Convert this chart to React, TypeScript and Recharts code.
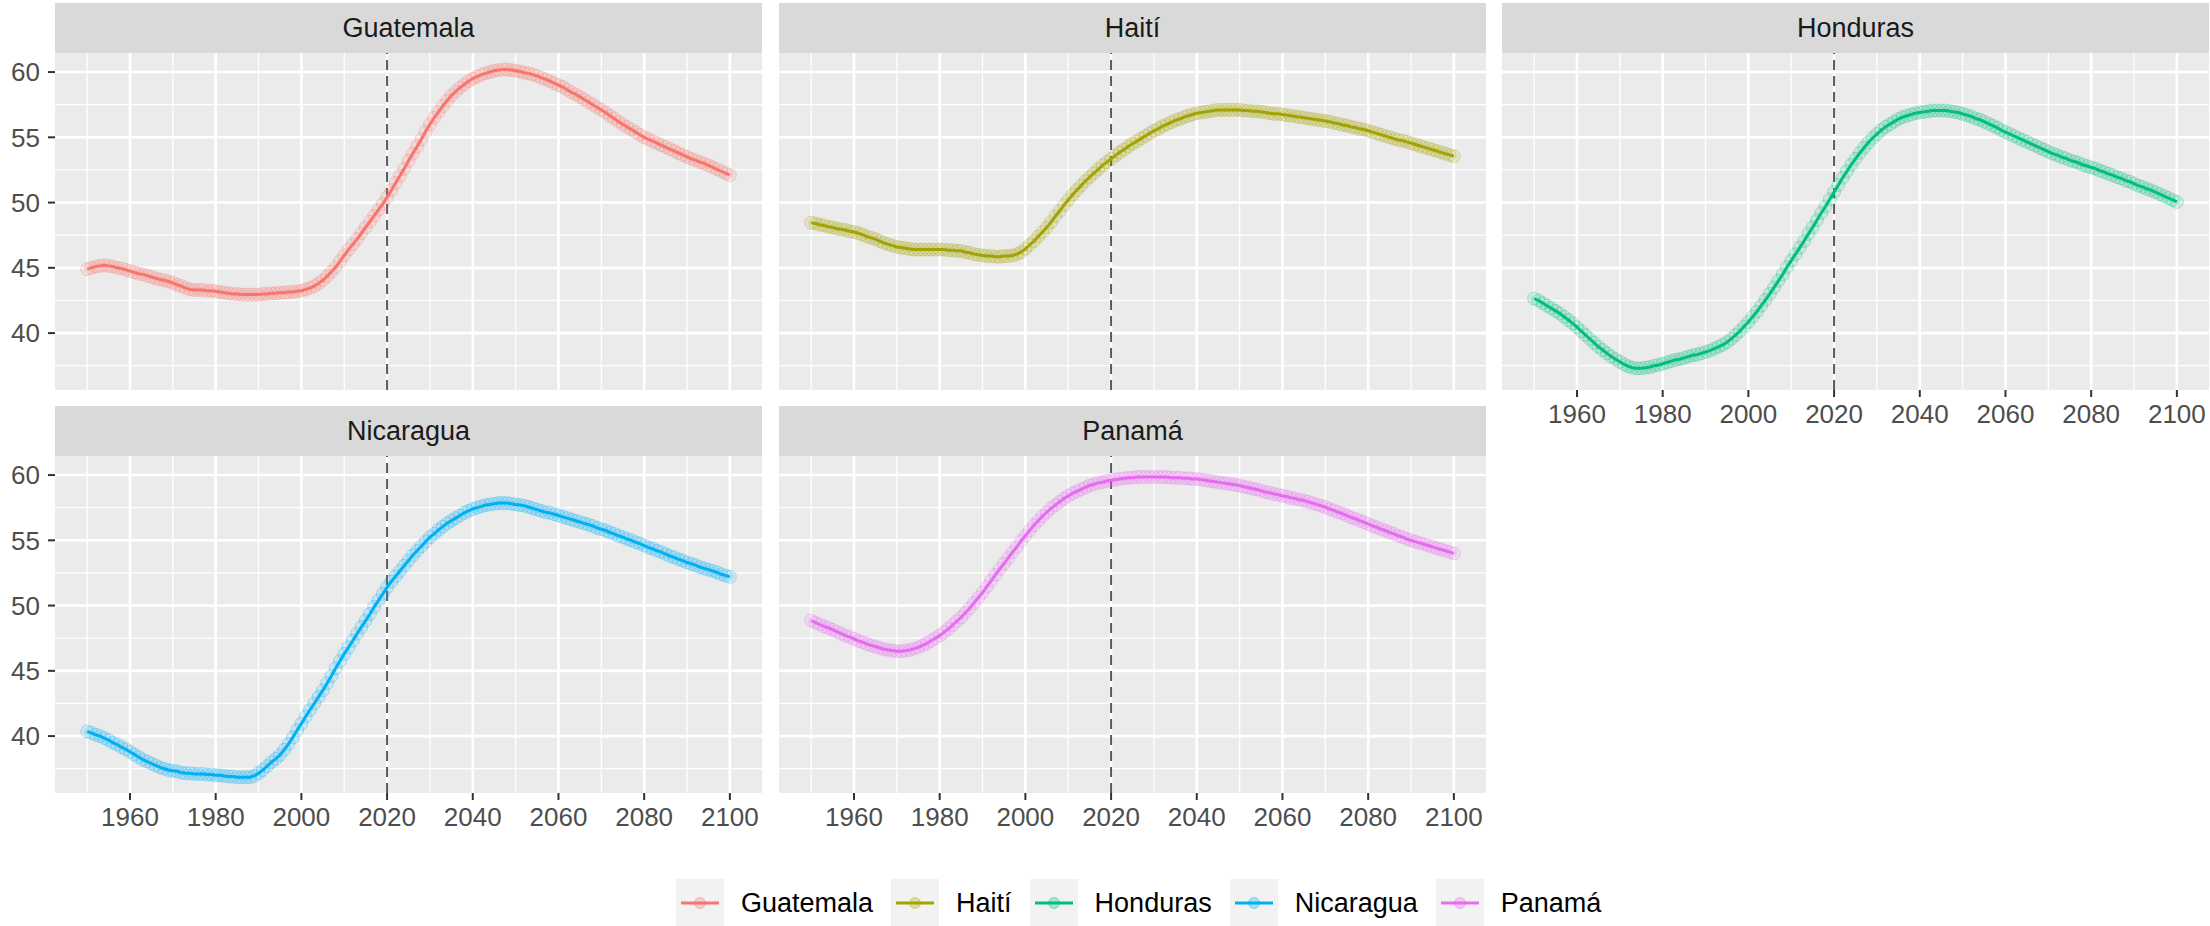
import React from 'react';
import { LineChart, Line, XAxis, YAxis, CartesianGrid, ReferenceLine } from 'recharts';

// años 1950..2100 (uno por punto)
const years: number[] = Array.from({ length: 151 }, (_, i) => 1950 + i);

const guatemala = [
  44.9, 45.0, 45.1, 45.15, 45.2, 45.15, 45.1, 45.0, 44.95, 44.85,
  44.75, 44.65, 44.55, 44.5, 44.4, 44.3, 44.2, 44.1, 44.05, 43.95,
  43.85, 43.7, 43.6, 43.45, 43.35, 43.3, 43.3, 43.3, 43.25, 43.25,
  43.2, 43.15, 43.1, 43.05, 43.0, 43.0, 42.95, 42.95, 42.95, 42.95,
  42.95, 43.0, 43.0, 43.05, 43.05, 43.1, 43.1, 43.15, 43.15, 43.2,
  43.25, 43.35, 43.45, 43.6, 43.8, 44.05, 44.35, 44.7, 45.05, 45.5,
  45.95, 46.4, 46.8, 47.2, 47.65, 48.1, 48.55, 49.0, 49.45, 49.9,
  50.4, 50.95, 51.5, 52.05, 52.6, 53.2, 53.75, 54.3, 54.85, 55.45,
  56.0, 56.5, 56.95, 57.4, 57.8, 58.2, 58.5, 58.8, 59.05, 59.3,
  59.5, 59.65, 59.8, 59.9, 60.0, 60.1, 60.15, 60.2, 60.2, 60.15,
  60.1, 60.05, 59.95, 59.9, 59.8, 59.7, 59.55, 59.45, 59.3, 59.15,
  59.0, 58.85, 58.65, 58.45, 58.3, 58.1, 57.9, 57.7, 57.5, 57.3,
  57.1, 56.9, 56.65, 56.45, 56.2, 56.0, 55.8, 55.6, 55.4, 55.2,
  55.0, 54.85, 54.7, 54.55, 54.4, 54.25, 54.1, 53.95, 53.8, 53.65,
  53.5, 53.35, 53.25, 53.1, 53.0, 52.85, 52.7, 52.55, 52.4, 52.25,
  52.1,
];

const haiti = [
  48.45, 48.4, 48.3, 48.25, 48.15, 48.1, 48.0, 47.95, 47.9, 47.8,
  47.75, 47.65, 47.55, 47.4, 47.3, 47.2, 47.05, 46.9, 46.8, 46.7,
  46.6, 46.55, 46.5, 46.45, 46.4, 46.4, 46.4, 46.4, 46.4, 46.4,
  46.4, 46.4, 46.35, 46.35, 46.3, 46.3, 46.2, 46.15, 46.05, 46.0,
  45.95, 45.9, 45.9, 45.85, 45.85, 45.9, 45.9, 45.95, 46.05, 46.2,
  46.45, 46.75, 47.05, 47.4, 47.75, 48.1, 48.5, 48.95, 49.35, 49.8,
  50.2, 50.6, 50.95, 51.3, 51.65, 51.95, 52.25, 52.55, 52.85, 53.1,
  53.35, 53.6, 53.85, 54.05, 54.3, 54.5, 54.7, 54.9, 55.1, 55.3,
  55.5, 55.65, 55.85, 56.0, 56.15, 56.3, 56.4, 56.55, 56.65, 56.75,
  56.85, 56.9, 56.95, 57.0, 57.05, 57.1, 57.1, 57.1, 57.1, 57.1,
  57.1, 57.05, 57.05, 57.0, 57.0, 56.95, 56.9, 56.85, 56.8, 56.8,
  56.75, 56.7, 56.65, 56.6, 56.55, 56.5, 56.45, 56.4, 56.35, 56.3,
  56.25, 56.2, 56.1, 56.05, 55.95, 55.9, 55.8, 55.75, 55.65, 55.6,
  55.5, 55.4, 55.3, 55.2, 55.1, 55.0, 54.9, 54.8, 54.75, 54.65,
  54.55, 54.45, 54.35, 54.25, 54.15, 54.05, 53.95, 53.85, 53.75, 53.65,
  53.55,
];

const honduras = [
  42.65, 42.5, 42.3, 42.1, 41.9, 41.7, 41.5, 41.25, 41.0, 40.75,
  40.45, 40.15, 39.85, 39.55, 39.25, 38.95, 38.7, 38.45, 38.2, 38.0,
  37.8, 37.6, 37.45, 37.35, 37.3, 37.3, 37.35, 37.4, 37.5, 37.55,
  37.65, 37.75, 37.85, 37.95, 38.0, 38.1, 38.2, 38.3, 38.35, 38.45,
  38.55, 38.65, 38.8, 38.95, 39.1, 39.3, 39.55, 39.85, 40.15, 40.5,
  40.85, 41.25, 41.65, 42.1, 42.55, 43.0, 43.5, 44.0, 44.5, 45.05,
  45.55, 46.05, 46.55, 47.05, 47.6, 48.1, 48.65, 49.2, 49.7, 50.25,
  50.8, 51.35, 51.9, 52.4, 52.9, 53.35, 53.8, 54.2, 54.6, 54.95,
  55.25, 55.55, 55.8, 56.0, 56.2, 56.4, 56.55, 56.65, 56.75, 56.85,
  56.9, 56.95, 57.0, 57.05, 57.05, 57.05, 57.05, 57.0, 56.95, 56.9,
  56.8, 56.7, 56.6, 56.45, 56.35, 56.2, 56.05, 55.9, 55.75, 55.55,
  55.4, 55.25, 55.1, 54.95, 54.8, 54.65, 54.5, 54.35, 54.2, 54.05,
  53.9, 53.75, 53.65, 53.5, 53.4, 53.25, 53.15, 53.05, 52.9, 52.8,
  52.7, 52.6, 52.45, 52.35, 52.2, 52.1, 51.95, 51.85, 51.7, 51.6,
  51.45, 51.3, 51.2, 51.05, 50.95, 50.8, 50.65, 50.5, 50.35, 50.2,
  50.05,
];

const nicaragua = [
  40.35, 40.25, 40.1, 40.0, 39.85, 39.7, 39.5, 39.35, 39.15, 39.0,
  38.8, 38.6, 38.4, 38.2, 38.05, 37.9, 37.75, 37.6, 37.5, 37.4,
  37.35, 37.3, 37.2, 37.15, 37.15, 37.1, 37.1, 37.1, 37.05, 37.05,
  37.0, 37.0, 36.95, 36.9, 36.9, 36.85, 36.85, 36.85, 36.85, 36.95,
  37.15, 37.4, 37.7, 38.0, 38.25, 38.55, 38.95, 39.4, 39.9, 40.45,
  40.95, 41.5, 42.0, 42.5, 43.0, 43.5, 44.05, 44.6, 45.2, 45.75,
  46.3, 46.8, 47.3, 47.85, 48.35, 48.85, 49.35, 49.9, 50.4, 50.9,
  51.4, 51.85, 52.25, 52.65, 53.05, 53.45, 53.85, 54.2, 54.55, 54.9,
  55.25, 55.5, 55.8, 56.05, 56.3, 56.5, 56.7, 56.9, 57.1, 57.25,
  57.4, 57.5, 57.6, 57.7, 57.75, 57.8, 57.85, 57.85, 57.85, 57.8,
  57.75, 57.7, 57.65, 57.55, 57.45, 57.35, 57.25, 57.15, 57.1, 57.0,
  56.9, 56.8, 56.7, 56.6, 56.5, 56.4, 56.3, 56.2, 56.1, 55.95,
  55.85, 55.75, 55.6, 55.5, 55.35, 55.25, 55.1, 55.0, 54.85, 54.75,
  54.6, 54.45, 54.35, 54.2, 54.1, 53.95, 53.8, 53.7, 53.55, 53.45,
  53.3, 53.2, 53.1, 52.95, 52.85, 52.75, 52.65, 52.55, 52.4, 52.3,
  52.2,
];

const panama = [
  48.85, 48.7, 48.55, 48.4, 48.3, 48.15, 48.0, 47.85, 47.7, 47.6,
  47.45, 47.3, 47.2, 47.05, 46.95, 46.85, 46.75, 46.65, 46.6, 46.55,
  46.5, 46.5, 46.55, 46.6, 46.7, 46.8, 46.95, 47.1, 47.3, 47.5,
  47.7, 47.95, 48.2, 48.5, 48.8, 49.1, 49.45, 49.8, 50.2, 50.6,
  51.0, 51.45, 51.9, 52.35, 52.8, 53.2, 53.65, 54.1, 54.5, 54.95,
  55.35, 55.75, 56.15, 56.5, 56.85, 57.15, 57.45, 57.7, 57.95, 58.2,
  58.4, 58.6, 58.75, 58.9, 59.05, 59.2, 59.3, 59.4, 59.45, 59.55,
  59.6, 59.65, 59.7, 59.75, 59.8, 59.8, 59.85, 59.85, 59.85, 59.85,
  59.85, 59.85, 59.85, 59.85, 59.8, 59.8, 59.8, 59.75, 59.75, 59.7,
  59.7, 59.65, 59.6, 59.55, 59.5, 59.45, 59.4, 59.35, 59.3, 59.25,
  59.2, 59.1, 59.05, 58.95, 58.9, 58.8, 58.7, 58.65, 58.55, 58.5,
  58.4, 58.35, 58.25, 58.2, 58.1, 58.05, 57.95, 57.85, 57.75, 57.65,
  57.55, 57.4, 57.3, 57.15, 57.05, 56.9, 56.75, 56.65, 56.5, 56.4,
  56.25, 56.1, 56.0, 55.85, 55.75, 55.6, 55.5, 55.35, 55.25, 55.1,
  55.0, 54.9, 54.8, 54.7, 54.6, 54.5, 54.4, 54.3, 54.2, 54.1,
  54.0,
];

const xTicks = [1960, 1980, 2000, 2020, 2040, 2060, 2080, 2100];
const xMinor = [1950, 1970, 1990, 2010, 2030, 2050, 2070, 2090];
const yTicks = [40, 45, 50, 55, 60];
const yMinor = [37.5, 42.5, 47.5, 52.5, 57.5];

const FONT = "'Liberation Sans', Arial, sans-serif";
const PANEL_W = 707;
const PANEL_H = 337;
const STRIP_H = 50;
const Y_AXIS_W = 55;
const X_AXIS_H = 50;
const COL_X = [55, 779, 1502];
const ROW_Y = [3, 406];

const panels = [
  { name: 'Guatemala', values: guatemala, color: '#F8766D', col: 0, row: 0, showX: false, showY: true },
  { name: 'Haití', values: haiti, color: '#A3A500', col: 1, row: 0, showX: false, showY: false },
  { name: 'Honduras', values: honduras, color: '#00BF7D', col: 2, row: 0, showX: true, showY: false },
  { name: 'Nicaragua', values: nicaragua, color: '#00B0F6', col: 0, row: 1, showX: true, showY: true },
  { name: 'Panamá', values: panama, color: '#E76BF3', col: 1, row: 1, showX: true, showY: false },
];

const makeDot = (color: string) => (props: any) => {
  const { cx, cy, index } = props;
  if (cx == null || cy == null) return <g key={`d-${index}`} />;
  return (
    <circle
      key={`d-${index}`}
      cx={cx}
      cy={cy}
      r={6.5}
      fill={color}
      fillOpacity={0.13}
      stroke={color}
      strokeOpacity={0.3}
      strokeWidth={1}
    />
  );
};

function Panel({ p }: { p: typeof panels[number] }) {
  const data = years.map((year, i) => ({ year, value: p.values[i] }));
  const left = COL_X[p.col] - (p.showY ? Y_AXIS_W : 0);
  const top = ROW_Y[p.row] + STRIP_H;
  const width = PANEL_W + (p.showY ? Y_AXIS_W : 0);
  const height = PANEL_H + (p.showX ? X_AXIS_H : 0);

  return (
    <>
      {/* strip */}
      <div
        style={{
          position: 'absolute',
          left: COL_X[p.col],
          top: ROW_Y[p.row],
          width: PANEL_W,
          height: STRIP_H,
          background: '#D9D9D9',
          color: '#1A1A1A',
          fontSize: 27,
          display: 'flex',
          alignItems: 'center',
          justifyContent: 'center',
        }}
      >
        {p.name}
      </div>
      <div style={{ position: 'absolute', left, top }}>
        <LineChart width={width} height={height} data={data} margin={{ top: 0, right: 0, bottom: 0, left: 0 }}>
          <CartesianGrid
            horizontalValues={yMinor}
            verticalValues={xMinor}
            stroke="#FFFFFF"
            strokeWidth={1.3}
            fill="#EBEBEB"
          />
          <CartesianGrid horizontalValues={yTicks} verticalValues={xTicks} stroke="#FFFFFF" strokeWidth={2.6} />
          <XAxis
            dataKey="year"
            type="number"
            domain={[1942.5, 2107.5]}
            ticks={xTicks}
            allowDataOverflow
            hide={!p.showX}
            height={X_AXIS_H}
            axisLine={false}
            tickSize={7}
            tickMargin={8}
            tickLine={{ stroke: '#333333', strokeWidth: 2 }}
            tick={{ fill: '#4D4D4D', fontSize: 26 }}
          />
          <YAxis
            type="number"
            domain={[35.64, 61.46]}
            ticks={yTicks}
            allowDataOverflow
            hide={!p.showY}
            width={Y_AXIS_W}
            axisLine={false}
            tickSize={7}
            tickMargin={8}
            tickLine={{ stroke: '#333333', strokeWidth: 2 }}
            tick={{ fill: '#4D4D4D', fontSize: 26 }}
          />
          <ReferenceLine x={2020} stroke="#5A5A5A" strokeWidth={2} strokeDasharray="10 6" />
          <Line
            type="linear"
            dataKey="value"
            stroke={p.color}
            strokeWidth={3}
            dot={makeDot(p.color)}
            activeDot={false}
            isAnimationActive={false}
          />
        </LineChart>
      </div>
    </>
  );
}

const legendItems = panels.map((p) => ({ name: p.name, color: p.color }));

function Legend() {
  return (
    <div
      style={{
        position: 'absolute',
        left: 676,
        top: 879,
        height: 48,
        display: 'flex',
        alignItems: 'center',
        fontSize: 27,
        color: '#000000',
      }}
    >
      {legendItems.map((it) => (
        <div key={it.name} style={{ display: 'flex', alignItems: 'center', marginRight: 18 }}>
          <svg width={48} height={48} style={{ display: 'block' }}>
            <rect x={0} y={0} width={48} height={48} fill="#F2F2F2" />
            <line x1={5} y1={24} x2={43} y2={24} stroke={it.color} strokeWidth={3} />
            <circle cx={24} cy={24} r={5.5} fill={it.color} fillOpacity={0.3} stroke={it.color} strokeOpacity={0.4} />
          </svg>
          <span style={{ marginLeft: 17, lineHeight: '48px' }}>{it.name}</span>
        </div>
      ))}
    </div>
  );
}

export default function App() {
  return (
    <div
      style={{
        position: 'absolute',
        left: 0,
        top: 0,
        width: 2210,
        height: 926,
        background: '#FFFFFF',
        fontFamily: FONT,
        overflow: 'hidden',
      }}
    >
      {panels.map((p) => (
        <Panel key={p.name} p={p} />
      ))}
      <Legend />
    </div>
  );
}
